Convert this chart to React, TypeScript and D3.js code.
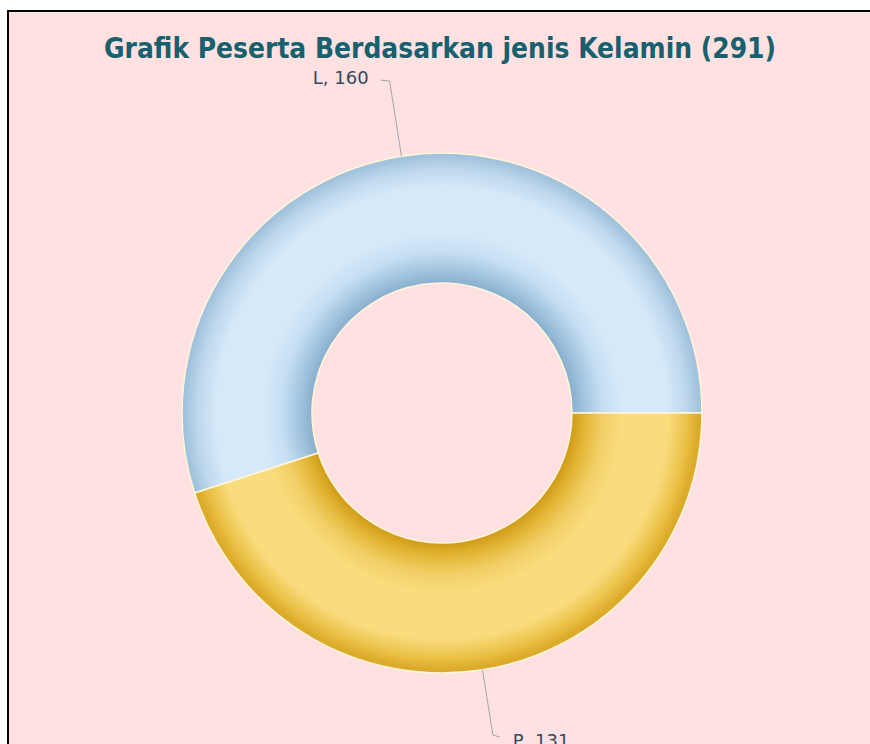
import React from "react";
import * as d3 from "d3";

const categories = ["L", "P"];
const values = [160, 131];
const total = 291;
const titleText = `Grafik Peserta Berdasarkan jenis Kelamin (${total})`;

const W = 870;
const H = 744;
const cx = 442;
const cy = 413;
const outerR = 260;
const innerR = 130;

const gradStops: Record<string, [number, string][]> = {
  L: [
    [0.5, "#88afce"],
    [0.55, "#a2c4df"],
    [0.62, "#c6dff3"],
    [0.69, "#d4e9f9"],
    [0.87, "#d4e9f9"],
    [0.94, "#bdd7ec"],
    [0.985, "#a4c4de"],
    [1.0, "#9fc1da"],
  ],
  P: [
    [0.5, "#d09b16"],
    [0.55, "#e2b535"],
    [0.62, "#f2cf66"],
    [0.69, "#f9dc7d"],
    [0.87, "#f9dc7d"],
    [0.94, "#ebc249"],
    [0.985, "#dcab2a"],
    [1.0, "#dbab2c"],
  ],
};

export default function App() {
  const pie = d3
    .pie<number>()
    .sort(null)
    .startAngle(Math.PI / 2)
    .endAngle(Math.PI / 2 - 2 * Math.PI);
  const arcs = pie(values);
  const arc = d3.arc<d3.PieArcDatum<number>>().innerRadius(innerR).outerRadius(outerR);

  const pt = (a: number, r: number): [number, number] => [
    cx + r * Math.sin(a),
    cy - r * Math.cos(a),
  ];

  return (
    <svg
      width={W}
      height={H}
      style={{ position: "absolute", left: 0, top: 0 }}
      xmlns="http://www.w3.org/2000/svg"
    >
      <defs>
        {categories.map((c) => (
          <radialGradient
            key={c}
            id={`g-${c}`}
            gradientUnits="userSpaceOnUse"
            cx={0}
            cy={0}
            r={outerR}
          >
            {gradStops[c].map(([o, col], i) => (
              <stop key={i} offset={o} stopColor={col} />
            ))}
          </radialGradient>
        ))}
      </defs>
      <rect x={0} y={0} width={W} height={H} fill="#ffffff" />
      <rect x={8} y={11} width={W + 20} height={H + 20} fill="#ffe1e2" stroke="#000" strokeWidth={2} />
      <text
        x={cx - 2}
        y={58}
        textAnchor="middle"
        fontFamily="'DejaVu Sans Condensed', 'DejaVu Sans', sans-serif"
        fontWeight="bold"
        fontSize={28}
        fill="#17606d"
        textLength={672}
        lengthAdjust="spacingAndGlyphs"
      >
        {titleText}
      </text>
      <g transform={`translate(${cx},${cy})`}>
        {arcs.map((a, i) => (
          <path
            key={categories[i]}
            d={arc(a) || ""}
            fill={`url(#g-${categories[i]})`}
            stroke="#fff6dc"
            strokeWidth={1.5}
          />
        ))}
      </g>
      {arcs.map((a, i) => {
        const mid = (a.startAngle + a.endAngle) / 2;
        const right = Math.sin(mid) >= 0;
        const p0 = pt(mid, outerR);
        const p1 = pt(mid, right ? 326 : 336);
        const p2: [number, number] = [p1[0] + (right ? 7 : -9), p1[1] + (right ? 2 : -1)];
        const tx = p2[0] + (right ? 13 : -12);
        return (
          <g key={categories[i]}>
            <polyline
              points={[p0, p1, p2].map((p) => p.join(",")).join(" ")}
              fill="none"
              stroke="#a3a3a8"
              strokeWidth={1}
            />
            <text
              x={tx}
              y={p2[1] + (right ? 10 : 4)}
              textAnchor={right ? "start" : "end"}
              fontFamily="'DejaVu Sans', Verdana, sans-serif"
              fontSize={18}
              fill="#34495e"
            >
              {`${categories[i]}, ${values[i]}`}
            </text>
          </g>
        );
      })}
    </svg>
  );
}
